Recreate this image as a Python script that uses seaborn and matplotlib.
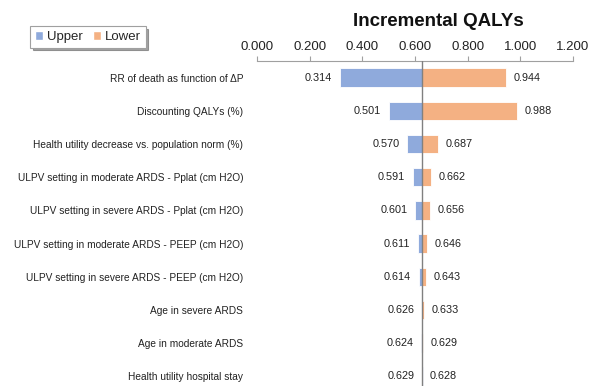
import matplotlib
matplotlib.use("Agg")
import matplotlib.pyplot as plt
import seaborn as sns
import pandas as pd
from matplotlib.patches import Patch

parameters = [
    "RR of death as function of \u0394P",
    "Discounting QALYs (%)",
    "Health utility decrease vs. population norm (%)",
    "ULPV setting in moderate ARDS - Pplat (cm H2O)",
    "ULPV setting in severe ARDS - Pplat (cm H2O)",
    "ULPV setting in moderate ARDS - PEEP (cm H2O)",
    "ULPV setting in severe ARDS - PEEP (cm H2O)",
    "Age in severe ARDS",
    "Age in moderate ARDS",
    "Health utility hospital stay",
]
upper_values = [0.314, 0.501, 0.570, 0.591, 0.601, 0.611, 0.614, 0.626, 0.624, 0.629]
lower_values = [0.944, 0.988, 0.687, 0.662, 0.656, 0.646, 0.643, 0.633, 0.629, 0.628]
base_value = 0.628
x_ticks = [0.0, 0.2, 0.4, 0.6, 0.8, 1.0, 1.2]

sns.set_style("white")
plt.rcParams["font.family"] = ["Liberation Sans", "DejaVu Sans"]

blue = "#8FAADC"
orange = "#F4B183"

df = pd.DataFrame({
    "parameter": parameters * 2,
    "series": ["Upper"] * len(parameters) + ["Lower"] * len(parameters),
    "delta": [v - base_value for v in upper_values] + [v - base_value for v in lower_values],
})

fig = plt.figure(figsize=(5.95, 3.86), dpi=100)
ax = fig.add_axes([257 / 595, (386 - 393) / 386, 316 / 595, 332 / 386])

sns.barplot(data=df, y="parameter", x="delta", hue="series", orient="h",
            palette={"Upper": blue, "Lower": orange}, dodge=False, saturation=1,
            width=0.55, left=base_value, edgecolor="white", linewidth=0.6,
            ax=ax, legend=False)

ax.set_xlim(0, 1.2)
ax.set_ylim(len(parameters) - 0.5, -0.5)
ax.xaxis.tick_top()
ax.set_xticks(x_ticks)
ax.set_xticklabels([f"{t:.3f}" for t in x_ticks], fontsize=9.5, color="#222222")
ax.tick_params(axis="x", direction="out", length=3.5, width=0.8, color="#A0A0A0", pad=2)
ax.tick_params(axis="y", length=0, pad=10, labelsize=7.3)
for lbl in ax.get_yticklabels():
    lbl.set_color("#222222")
ax.set_xlabel("")
ax.set_ylabel("")
for s in ["left", "right", "bottom"]:
    ax.spines[s].set_visible(False)
ax.spines["top"].set_color("#A0A0A0")
ax.spines["top"].set_linewidth(0.8)

ax.axvline(base_value, color="#808080", linewidth=1.0, zorder=5)

for i, (u, l) in enumerate(zip(upper_values, lower_values)):
    ax.annotate(f"{u:.3f}", xy=(min(u, base_value), i), xytext=(-5.5, 0),
                textcoords="offset points", ha="right", va="center",
                fontsize=7.8, color="#222222")
    ax.annotate(f"{l:.3f}", xy=(max(l, base_value), i), xytext=(5.5, 0),
                textcoords="offset points", ha="left", va="center",
                fontsize=7.8, color="#222222")

fig.text(438 / 595, 1 - 21 / 386, "Incremental QALYs", ha="center", va="center",
         fontsize=13.5, fontweight="bold", color="#111111")

handles = [Patch(facecolor=blue, label="Upper"), Patch(facecolor=orange, label="Lower")]
leg = fig.legend(handles=handles, loc="center", bbox_to_anchor=(88 / 595, 1 - 37 / 386),
                 ncol=2, fontsize=9.5, frameon=True, fancybox=False, shadow=True,
                 handlelength=0.6, handleheight=0.6, handletextpad=0.3,
                 columnspacing=0.8, borderpad=0.35, edgecolor="#A0A0A0")
leg.get_frame().set_linewidth(0.8)

fig.savefig("out.png", dpi=100)
